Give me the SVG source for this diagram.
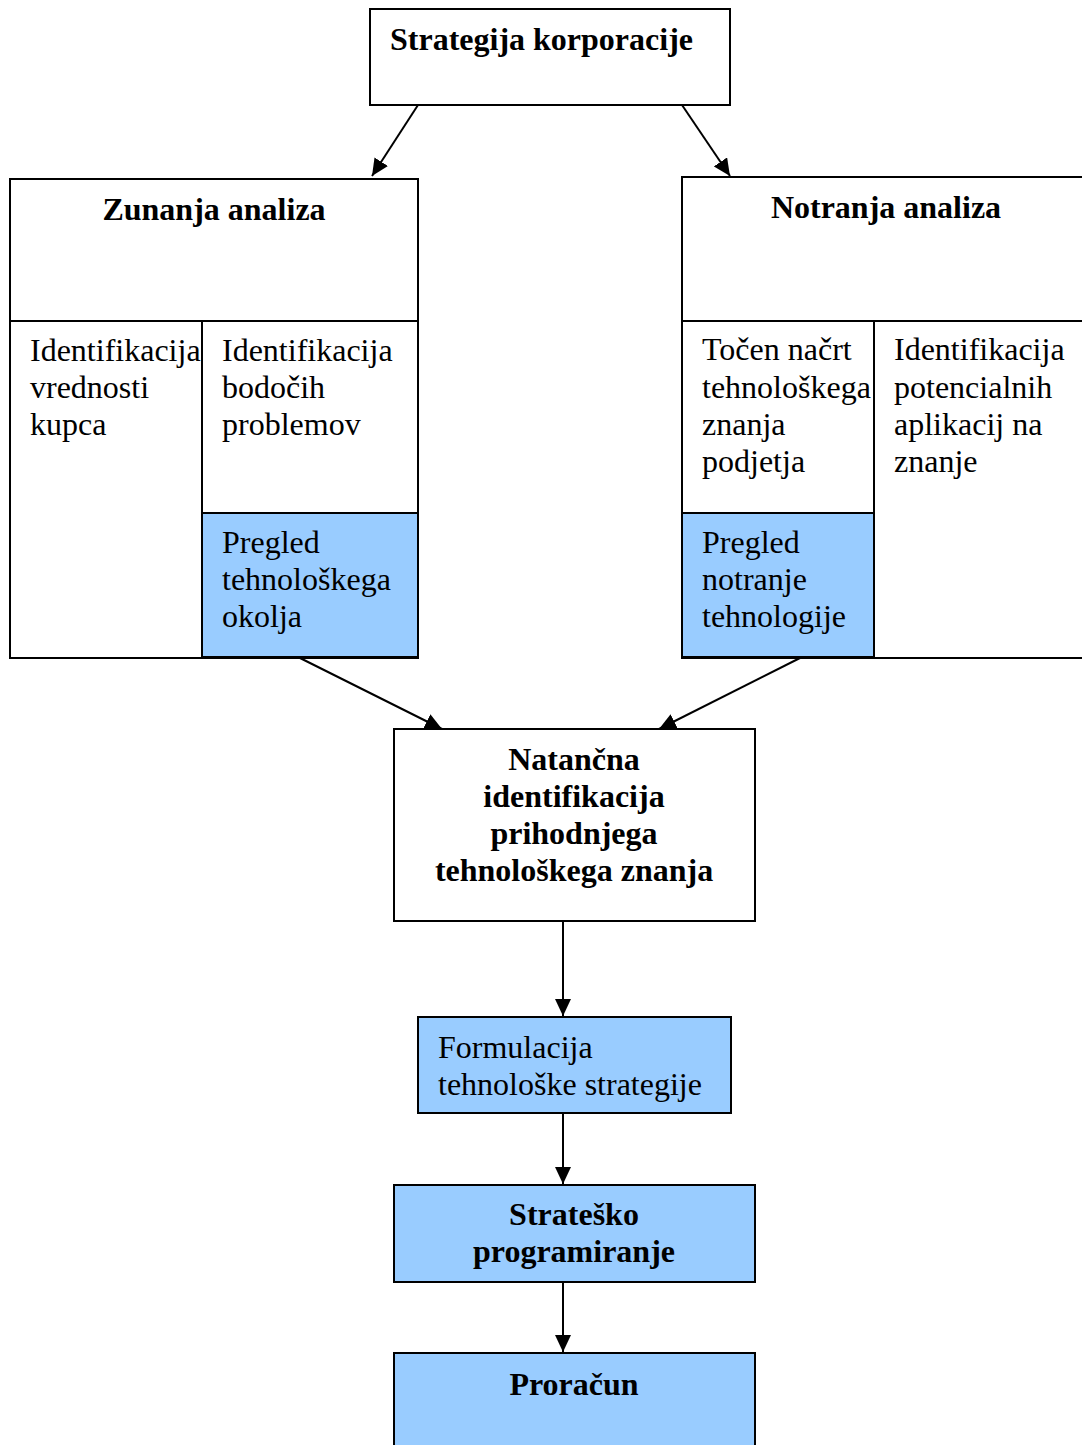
<svg xmlns="http://www.w3.org/2000/svg" width="1082" height="1445" viewBox="0 0 1082 1445">
  <style>
    .box { fill: #ffffff; stroke: #000000; stroke-width: 2; }
    .blue { fill: #99ccff; stroke: #000000; stroke-width: 2; }
    .div { fill: none; stroke: #000000; stroke-width: 2; }
    .t { font-family: "Liberation Serif", "Times New Roman", serif; font-size: 32px; fill: #000000; }
    .b { font-family: "Liberation Serif", "Times New Roman", serif; font-size: 32px; font-weight: bold; fill: #000000; }
    .c { text-anchor: middle; }
    .edge { fill: none; stroke: #000000; stroke-width: 2; marker-end: url(#arrow); }
  </style>
  <defs>
    <marker id="arrow" markerUnits="userSpaceOnUse" markerWidth="18" markerHeight="16" refX="17" refY="8" orient="auto">
      <path d="M0,0 L17,8 L0,16 Z" fill="#000000"/>
    </marker>
  </defs>

  <rect width="1082" height="1445" fill="#ffffff"/>

  <!-- top: corporate strategy -->
  <g id="strategija">
    <rect class="box" x="370" y="9" width="360" height="96"/>
    <text class="b" x="390" y="50">Strategija korporacije</text>
  </g>

  <!-- external analysis block -->
  <g id="zunanja">
    <rect class="box" x="10" y="179" width="408" height="479"/>
    <line class="div" x1="10" y1="321" x2="418" y2="321"/>
    <line class="div" x1="202" y1="321" x2="202" y2="658"/>
    <text class="b c" x="214" y="220">Zunanja analiza</text>
  </g>
  <g id="vrednosti-kupca">
    <text class="t" x="30" y="361">Identifikacija</text>
    <text class="t" x="30" y="398">vrednosti</text>
    <text class="t" x="30" y="435">kupca</text>
  </g>
  <g id="bodoci-problemi">
    <text class="t" x="222" y="361">Identifikacija</text>
    <text class="t" x="222" y="398">bodočih</text>
    <text class="t" x="222" y="435">problemov</text>
  </g>
  <g id="pregled-okolja">
    <rect class="blue" x="202" y="513" width="216" height="144"/>
    <text class="t" x="222" y="553">Pregled</text>
    <text class="t" x="222" y="590">tehnološkega</text>
    <text class="t" x="222" y="627">okolja</text>
  </g>

  <!-- internal analysis block -->
  <g id="notranja">
    <rect class="box" x="682" y="177" width="410" height="481"/>
    <line class="div" x1="682" y1="321" x2="1092" y2="321"/>
    <line class="div" x1="874" y1="321" x2="874" y2="658"/>
    <text class="b c" x="886" y="218">Notranja analiza</text>
  </g>
  <g id="nacrt-znanja">
    <text class="t" x="702" y="360">Točen načrt</text>
    <text class="t" x="702" y="398">tehnološkega</text>
    <text class="t" x="702" y="435">znanja</text>
    <text class="t" x="702" y="472">podjetja</text>
  </g>
  <g id="potencialne-aplikacije">
    <text class="t" x="894" y="360">Identifikacija</text>
    <text class="t" x="894" y="398">potencialnih</text>
    <text class="t" x="894" y="435">aplikacij na</text>
    <text class="t" x="894" y="472">znanje</text>
  </g>
  <g id="pregled-tehnologije">
    <rect class="blue" x="682" y="513" width="192" height="144"/>
    <text class="t" x="702" y="553">Pregled</text>
    <text class="t" x="702" y="590">notranje</text>
    <text class="t" x="702" y="627">tehnologije</text>
  </g>

  <!-- synthesis -->
  <g id="natancna-identifikacija">
    <rect class="box" x="394" y="729" width="361" height="192"/>
    <text class="b c" x="574" y="770">Natančna</text>
    <text class="b c" x="574" y="807">identifikacija</text>
    <text class="b c" x="574" y="844">prihodnjega</text>
    <text class="b c" x="574" y="881">tehnološkega znanja</text>
  </g>

  <g id="formulacija">
    <rect class="blue" x="418" y="1017" width="313" height="96"/>
    <text class="t" x="438" y="1058">Formulacija</text>
    <text class="t" x="438" y="1095">tehnološke strategije</text>
  </g>

  <g id="strateško-programiranje">
    <rect class="blue" x="394" y="1185" width="361" height="97"/>
    <text class="b c" x="574" y="1225">Strateško</text>
    <text class="b c" x="574" y="1262">programiranje</text>
  </g>

  <g id="proracun">
    <rect class="blue" x="394" y="1353" width="361" height="110"/>
    <text class="b c" x="574" y="1395">Proračun</text>
  </g>

  <!-- connectors -->
  <g id="connectors">
    <line class="edge" x1="418" y1="105" x2="372" y2="176"/>
    <line class="edge" x1="682" y1="105" x2="730" y2="176"/>
    <line class="edge" x1="300" y1="658" x2="442" y2="729"/>
    <line class="edge" x1="800" y1="658" x2="659" y2="729"/>
    <line class="edge" x1="563" y1="921" x2="563" y2="1016"/>
    <line class="edge" x1="563" y1="1113" x2="563" y2="1184"/>
    <line class="edge" x1="563" y1="1282" x2="563" y2="1352"/>
  </g>
</svg>
